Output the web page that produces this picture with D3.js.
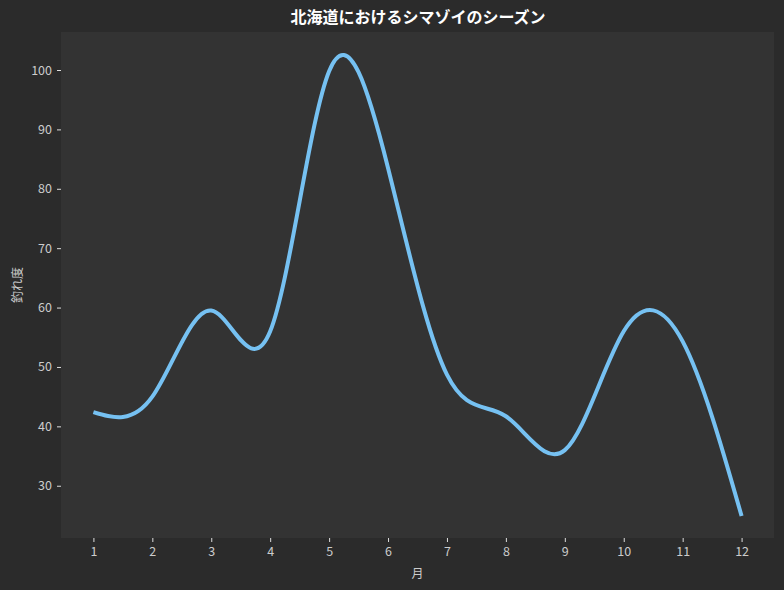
<!DOCTYPE html>
<html><head><meta charset="utf-8">
<script src="https://cdn.jsdelivr.net/npm/d3@7"></script>
<style>
html,body{margin:0;padding:0;background:#2b2b2b;}
svg{display:block;}
</style></head>
<body>
<svg id="chart" width="784" height="590"></svg>
<script>
const months = [1,2,3,4,5,6,7,8,9,10,11,12];
const catchIndex = [42.4,45.0,59.5,56.0,99.8,83.5,48.7,41.7,36.0,56.0,54.3,24.9];
const yTicks = [30,40,50,60,70,80,90,100];
const titleText = "北海道におけるシマゾイのシーズン";
const xLabel = "月";
const yLabel = "釣れ度";

const svg = d3.select("#chart");
const W=784,H=590;
const m={left:61, right:10, top:32, bottom:52};
const iw=W-m.left-m.right, ih=H-m.top-m.bottom;
const font = "'Noto Sans CJK JP','Noto Sans',sans-serif";

svg.append("rect").attr("width",W).attr("height",H).attr("fill","#2b2b2b");
const g = svg.append("g").attr("transform",`translate(${m.left},${m.top})`);
g.append("rect").attr("width",iw).attr("height",ih).attr("fill","#333333");

const x = d3.scaleLinear().domain([0.45,12.55]).range([0,iw]);
const y = d3.scaleLinear().domain([21.2,106.4]).range([ih,0]);

const xAxis = g.append("g").attr("transform",`translate(0,${ih})`)
  .call(d3.axisBottom(x).tickValues(months).tickFormat(d3.format("d")).tickSize(4).tickPadding(5));
const yAxis = g.append("g")
  .call(d3.axisLeft(y).tickValues(yTicks).tickFormat(d3.format("d")).tickSize(4).tickPadding(5));
[xAxis,yAxis].forEach(a=>{
  a.select(".domain").remove();
  a.selectAll(".tick line").attr("stroke","#dddddd").attr("stroke-width",1);
  a.selectAll(".tick text").attr("fill","#cccccc").style("font-family",font).style("font-size","12.5px");
});

const line = d3.line().x((d,i)=>x(months[i])).y(d=>y(d)).curve(d3.curveNatural);
g.append("path").datum(catchIndex).attr("d",line)
  .attr("fill","none").attr("stroke","#76c1f2").attr("stroke-width",4).attr("stroke-linecap","butt");

svg.append("text").attr("x",418).attr("y",23).attr("text-anchor","middle")
  .attr("fill","#ffffff").style("font-family",font).style("font-size","16px").style("font-weight","bold")
  .text(titleText);
svg.append("text").attr("x",m.left+iw/2).attr("y",578).attr("text-anchor","middle")
  .attr("fill","#cccccc").style("font-family",font).style("font-size","12px").text(xLabel);
svg.append("text").attr("transform",`translate(22,${m.top+ih/2}) rotate(-90)`).attr("text-anchor","middle")
  .attr("fill","#cccccc").style("font-family",font).style("font-size","12px").text(yLabel);
</script>
</body></html>
